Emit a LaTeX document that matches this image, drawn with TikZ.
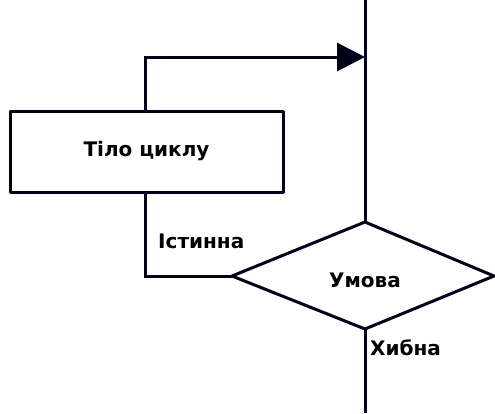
\documentclass[tikz,border=0pt]{standalone}
\usepackage{fontspec}
\setmainfont{DejaVu Sans}
\usetikzlibrary{shapes.geometric,arrows.meta}
\begin{document}
\begin{tikzpicture}[x=1pt,y=-1pt,
  line/.style={line width=3pt,draw=black!85!blue!60!black},
  lbl/.style={font=\fontsize{20}{22}\selectfont\bfseries,inner sep=0pt},
  box/.style={line,line join=round},
]
\useasboundingbox (0,0) rectangle (495,413);
% main vertical line top
\coordinate (topend) at (365,0);
\coordinate (merge) at (365,57);
\coordinate (turn1) at (145,57);
\coordinate (turn2) at (145,276);
% body rectangle
\draw[box] (10,111) rectangle (283,192);
\node[lbl] (body) at (146.5,151) {Тіло циклу};
\coordinate (bodytop) at (145,111);
\coordinate (bodybot) at (145,192);
% diamond
\coordinate (dl) at (232,276);
\coordinate (dt) at (365,222);
\coordinate (dr) at (494,276);
\coordinate (db) at (365,329);
\draw[box] (dl) -- (dt) -- (dr) -- (db) -- cycle;
\node[lbl] (cond) at (365,280) {Умова};
\coordinate (bottomend) at (365,413);
% connectors
\draw[line] (topend) -- (dt);
\draw[line,-{Triangle[length=28pt,width=28pt]}] (bodytop) -- (turn1) -- (merge);
\draw[line] (bodybot) -- (turn2) -- (dl);
\draw[line] (db) -- (bottomend);
% labels
\node[lbl,anchor=west] (truelbl) at (158,241) {Істинна};
\node[lbl,anchor=west] (falselbl) at (370,348) {Хибна};
\end{tikzpicture}
\end{document}
